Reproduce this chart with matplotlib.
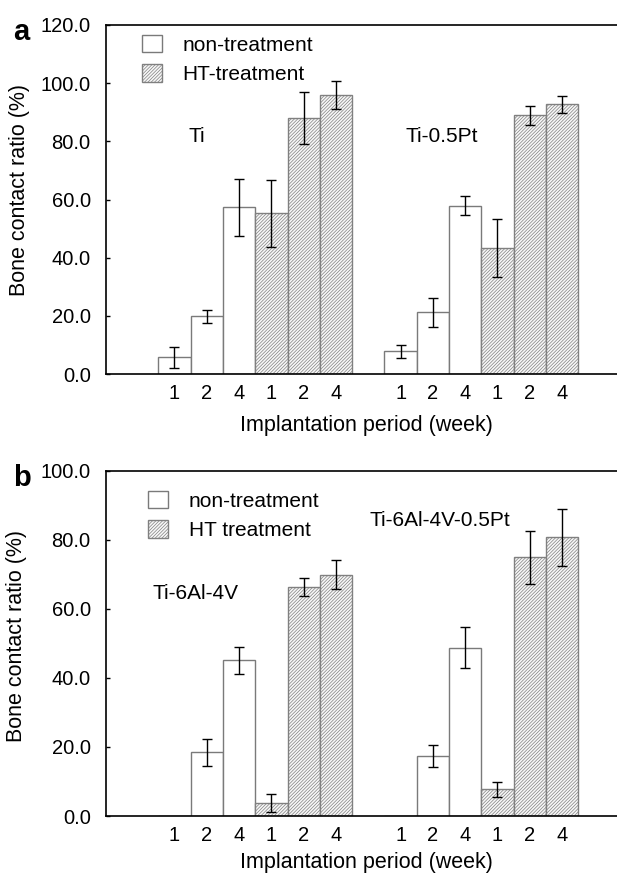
import numpy as np
import matplotlib
matplotlib.use("Agg")
import matplotlib.pyplot as plt
from matplotlib.patches import Patch

plt.rcParams['font.family'] = ['Liberation Sans', 'DejaVu Sans']
plt.rcParams['hatch.linewidth'] = 0.5

weeks = ['1', '2', '4', '1', '2', '4']

# panel a : Ti / Ti-0.5Pt
a_ti_non = [5.7, 19.8, 57.3]
a_ti_non_err = [3.5, 2.2, 9.9]
a_ti_ht = [55.2, 88.0, 95.9]
a_ti_ht_err = [11.5, 9.0, 4.8]
a_pt_non = [7.8, 21.2, 57.9]
a_pt_non_err = [2.3, 5.0, 3.2]
a_pt_ht = [43.2, 88.9, 92.7]
a_pt_ht_err = [10.0, 3.2, 2.8]

# panel b : Ti-6Al-4V / Ti-6Al-4V-0.5Pt
b_al_non = [0.0, 18.4, 45.1]
b_al_non_err = [0.0, 4.0, 3.9]
b_al_ht = [3.7, 66.2, 69.9]
b_al_ht_err = [2.6, 2.6, 4.2]
b_pt_non = [0.0, 17.5, 48.7]
b_pt_non_err = [0.0, 3.2, 5.9]
b_pt_ht = [7.7, 74.9, 80.7]
b_pt_ht_err = [2.1, 7.7, 8.2]

W, H = 617, 873
fig = plt.figure(figsize=(W / 100, H / 100), dpi=100)

non_style = dict(facecolor='white', edgecolor='#7a7a7a', linewidth=1.0)
ht_style = dict(facecolor='#f7f7f7', edgecolor='#808080', linewidth=1.0, hatch='/' * 10)


def draw_panel(ax, groups, ymax, legend_labels, legend_xy):
    x_non = [np.array([0, 1, 2]), np.array([7, 8, 9])]
    x_ht = [np.array([3, 4, 5]), np.array([10, 11, 12])]
    for g, (non, non_err, ht, ht_err) in enumerate(groups):
        ax.bar(x_non[g], non, width=1.0, **non_style)
        ax.bar(x_ht[g], ht, width=1.0, **ht_style)
        for xs, v, e in ((x_non[g], non, non_err), (x_ht[g], ht, ht_err)):
            v = np.array(v)
            e = np.array(e)
            m = e > 0
            ax.errorbar(xs[m], v[m], yerr=e[m], fmt='none', ecolor='black',
                        elinewidth=1.0, capsize=3.5, capthick=1.0)
    ax.set_xlim(-2.12, 13.70)
    ax.set_ylim(0, ymax)
    ax.set_yticks(np.arange(0, ymax + 1, 20))
    ax.set_yticklabels(['%.1f' % t for t in np.arange(0, ymax + 1, 20)])
    ax.set_xticks(list(range(0, 6)) + list(range(7, 13)))
    ax.set_xticklabels(weeks + weeks)
    ax.tick_params(axis='y', direction='in', length=3, width=1, labelsize=14.5, pad=11)
    ax.tick_params(axis='x', length=0, labelsize=14.5, pad=7)
    ax.spines['right'].set_visible(False)
    for s in ('top', 'bottom', 'left'):
        ax.spines[s].set_linewidth(1.2)
    handles = [Patch(**non_style), Patch(**ht_style)]
    ax.legend(handles, legend_labels, loc='upper left', frameon=False,
              bbox_to_anchor=(legend_xy[0] / W, 1 - legend_xy[1] / H),
              bbox_transform=fig.transFigure, borderpad=0, borderaxespad=0,
              handlelength=0.95, handleheight=0.9, handletextpad=1.0,
              labelspacing=0.45, fontsize=15)


# panel a
ax1 = fig.add_axes([106 / W, 1 - 374 / H, 511 / W, 349 / H])
draw_panel(ax1, [(a_ti_non, a_ti_non_err, a_ti_ht, a_ti_ht_err),
                 (a_pt_non, a_pt_non_err, a_pt_ht, a_pt_ht_err)],
           120, ['non-treatment', 'HT-treatment'], (142, 35))
ax1.text(0.68, 81.6, 'Ti', ha='center', va='center', fontsize=15)
ax1.text(8.26, 81.6, 'Ti-0.5Pt', ha='center', va='center', fontsize=15)
ax1.set_ylabel('Bone contact ratio (%)', fontsize=15.5)
ax1.yaxis.set_label_coords(-0.149, 0.527)
ax1.set_xlabel('Implantation period (week)', fontsize=15.5)
ax1.xaxis.set_label_coords(0.51, -0.117)

# panel b
ax2 = fig.add_axes([106 / W, 1 - 816 / H, 511 / W, 345.3 / H])
draw_panel(ax2, [(b_al_non, b_al_non_err, b_al_ht, b_al_ht_err),
                 (b_pt_non, b_pt_non_err, b_pt_ht, b_pt_ht_err)],
           100, ['non-treatment', 'HT treatment'], (148, 491))
ax2.text(0.66, 64.5, 'Ti-6Al-4V', ha='center', va='center', fontsize=15)
ax2.text(8.23, 85.7, 'Ti-6Al-4V-0.5Pt', ha='center', va='center', fontsize=15)
ax2.set_ylabel('Bone contact ratio (%)', fontsize=15.5)
ax2.yaxis.set_label_coords(-0.154, 0.521)
ax2.set_xlabel('Implantation period (week)', fontsize=15.5)
ax2.xaxis.set_label_coords(0.51, -0.104)

fig.text(21 / W, 1 - 32 / H, 'a', ha='center', va='center', fontsize=21, fontweight='bold')
fig.text(22 / W, 1 - 478 / H, 'b', ha='center', va='center', fontsize=21, fontweight='bold')

fig.savefig('out.png', dpi=100)
